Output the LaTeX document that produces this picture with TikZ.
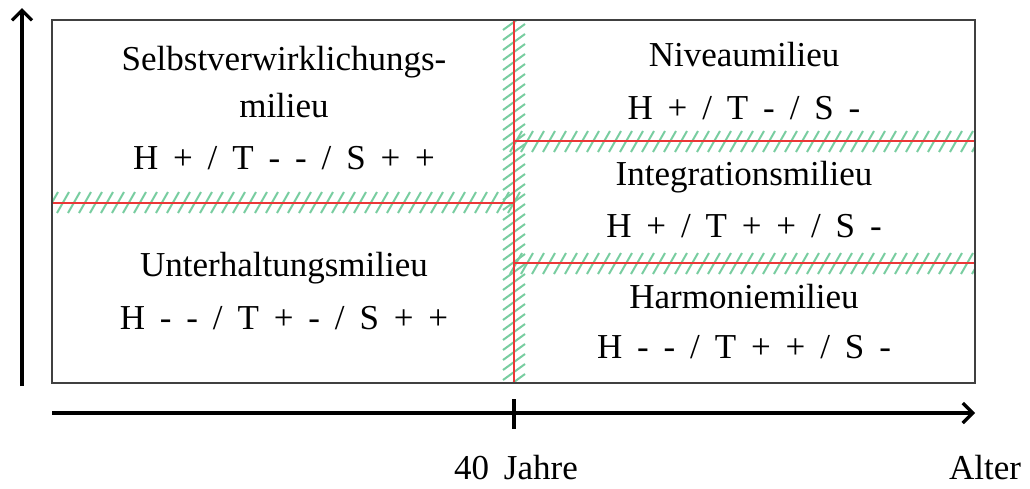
\documentclass[tikz,border=0pt]{standalone}
\usepackage{fontspec}
\setmainfont{Liberation Serif}[WordSpace=1.7]
\usetikzlibrary{arrows.meta}
\definecolor{hatchgreen}{RGB}{120,205,160}
\definecolor{milieured}{RGB}{235,55,55}

\begin{document}
\begin{tikzpicture}[x=1pt,y=-1pt,font=\fontsize{35}{40}\selectfont,
  label/.style={inner sep=0pt},
  hatch/.style={hatchgreen,line width=2pt},
  divider/.style={milieured,line width=2.6pt},
  axis/.style={line width=3.2pt,-{Straight Barb[length=10pt,width=20pt,line width=3.2pt]}}]
  \useasboundingbox (0,0) rectangle (1030,488);
  \coordinate (tl) at (52,20);
  \coordinate (br) at (975,383);
  % hatched bands
  \begin{scope}
    \clip (tl) rectangle (br);
    \foreach \x in {52,63,...,516}{\draw[hatch] (\x-6,213) -- (\x+6,192);}
    \foreach \x in {516,527,...,980}{\draw[hatch] (\x-6,152) -- (\x+6,131);
      \draw[hatch] (\x-6,274) -- (\x+6,253);}
    \foreach \y in {22,32,...,385}{\draw[hatch] (503,\y+8) -- (525,\y-8);}
  \end{scope}
  % red dividers
  \coordinate (mtop) at (514,20);
  \coordinate (mbot) at (514,383);
  \coordinate (lmid) at (52,203);
  \coordinate (cmid) at (514,203);
  \coordinate (rup) at (975,141);
  \coordinate (cup) at (514,141);
  \coordinate (rlow) at (975,263);
  \coordinate (clow) at (514,263);
  \draw[divider] (lmid) -- (cmid);
  \draw[divider] (cup) -- (rup);
  \draw[divider] (clow) -- (rlow);
  \draw[divider] (mtop) -- (mbot);
  \draw[line width=2.4pt,black!75] (tl) rectangle (br);
  % milieus
  \node[label] (selbst) at (284,62) {Selbstverwirklichungs-};
  \node[label] (selbst2) at (284,106) {milieu};
  \node[label] (selbstcode) at (284,158) {H + / T - - / S + +};
  \node[label] (unter) at (284,268) {Unterhaltungsmilieu};
  \node[label] (untercode) at (284,318) {H - - / T + - / S + +};
  \node[label] (niveau) at (744,55) {Niveaumilieu};
  \node[label] (niveaucode) at (744,108) {H + / T - / S -};
  \node[label] (integ) at (744,177) {Integrationsmilieu};
  \node[label] (integcode) at (744,226) {H + / T + + / S -};
  \node[label] (harm) at (744,297) {Harmoniemilieu};
  \node[label] (harmcode) at (744,347) {H - - / T + + / S -};
  % axes
  \coordinate (yfoot) at (22,386);
  \coordinate (ytip) at (22,8);
  \coordinate (xfoot) at (52,413);
  \coordinate (xtip) at (975,413);
  \draw[axis] (yfoot) -- (ytip);
  \draw[axis] (xfoot) -- (xtip);
  \draw[line width=3.2pt] (514,399) -- (514,429);
  \node[label] (jahre) at (516,468) {40 Jahre};
  \node[label] (alter) at (985,468) {Alter};
\end{tikzpicture}
\end{document}
